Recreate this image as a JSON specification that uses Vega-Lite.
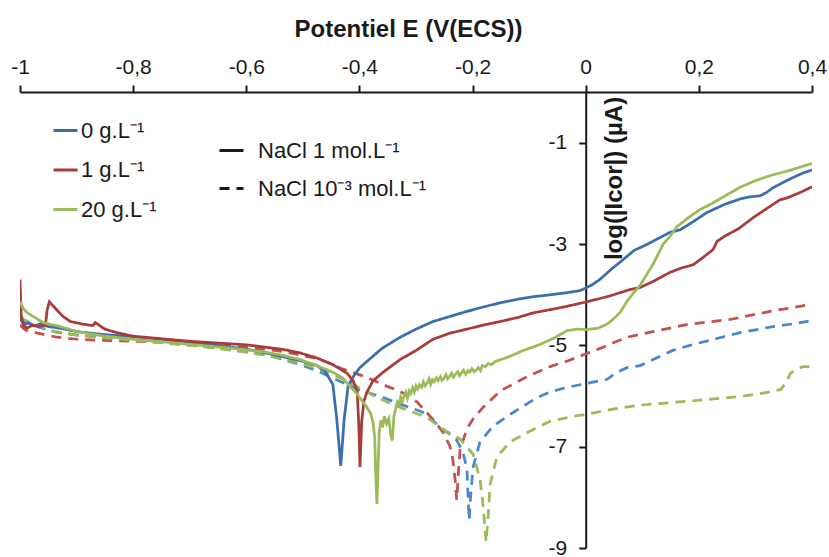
{
"$schema": "https://vega.github.io/schema/vega-lite/v6.json",
"width": 792, "height": 456,
"autosize": {"type": "none"},
"padding": {"left": 20, "top": 92, "right": 17, "bottom": 9},
"background": "white",
"config": {"view": {"stroke": null}, "font": "Liberation Sans", "axis": {"grid": false}},
"data": {"values": [
{"s":"b2","n":"3","x":-1.000,"y":-4.50},{"s":"b2","n":"3","x":-0.973,"y":-4.62},{"s":"b2","n":"3","x":-0.941,"y":-4.73},{"s":"b2","n":"3","x":-0.899,"y":-4.80},{"s":"b2","n":"3","x":-0.850,"y":-4.85},{"s":"b2","n":"3","x":-0.800,"y":-4.89},{"s":"b2","n":"3","x":-0.740,"y":-4.95},{"s":"b2","n":"3","x":-0.682,"y":-5.01},{"s":"b2","n":"3","x":-0.623,"y":-5.09},{"s":"b2","n":"3","x":-0.563,"y":-5.19},{"s":"b2","n":"3","x":-0.535,"y":-5.28},{"s":"b2","n":"3","x":-0.505,"y":-5.38},{"s":"b2","n":"3","x":-0.475,"y":-5.50},{"s":"b2","n":"3","x":-0.447,"y":-5.65},{"s":"b2","n":"3","x":-0.420,"y":-5.78},{"s":"b2","n":"3","x":-0.399,"y":-5.88},{"s":"b2","n":"3","x":-0.358,"y":-6.03},{"s":"b2","n":"3","x":-0.328,"y":-6.16},{"s":"b2","n":"3","x":-0.288,"y":-6.32},{"s":"b2","n":"3","x":-0.258,"y":-6.60},{"s":"b2","n":"3","x":-0.228,"y":-6.87},{"s":"b2","n":"3","x":-0.217,"y":-7.11},{"s":"b2","n":"3","x":-0.210,"y":-7.44},{"s":"b2","n":"3","x":-0.208,"y":-7.98},{"s":"b2","n":"3","x":-0.206,"y":-8.45},{"s":"b2","n":"3","x":-0.203,"y":-7.90},{"s":"b2","n":"3","x":-0.199,"y":-7.40},{"s":"b2","n":"3","x":-0.187,"y":-6.91},{"s":"b2","n":"3","x":-0.164,"y":-6.60},{"s":"b2","n":"3","x":-0.139,"y":-6.40},{"s":"b2","n":"3","x":-0.110,"y":-6.20},{"s":"b2","n":"3","x":-0.086,"y":-6.03},{"s":"b2","n":"3","x":-0.063,"y":-5.92},{"s":"b2","n":"3","x":-0.033,"y":-5.83},{"s":"b2","n":"3","x":0.002,"y":-5.75},{"s":"b2","n":"3","x":0.038,"y":-5.67},{"s":"b2","n":"3","x":0.055,"y":-5.53},{"s":"b2","n":"3","x":0.073,"y":-5.44},{"s":"b2","n":"3","x":0.096,"y":-5.40},{"s":"b2","n":"3","x":0.125,"y":-5.25},{"s":"b2","n":"3","x":0.154,"y":-5.10},{"s":"b2","n":"3","x":0.184,"y":-5.00},{"s":"b2","n":"3","x":0.230,"y":-4.87},{"s":"b2","n":"3","x":0.273,"y":-4.75},{"s":"b2","n":"3","x":0.326,"y":-4.64},{"s":"b2","n":"3","x":0.370,"y":-4.57},{"s":"b2","n":"3","x":0.400,"y":-4.51},
{"s":"r2","n":"3","x":-1.000,"y":-4.60},{"s":"r2","n":"3","x":-0.990,"y":-4.70},{"s":"r2","n":"3","x":-0.973,"y":-4.75},{"s":"r2","n":"3","x":-0.934,"y":-4.84},{"s":"r2","n":"3","x":-0.899,"y":-4.88},{"s":"r2","n":"3","x":-0.859,"y":-4.90},{"s":"r2","n":"3","x":-0.800,"y":-4.92},{"s":"r2","n":"3","x":-0.740,"y":-4.94},{"s":"r2","n":"3","x":-0.682,"y":-4.98},{"s":"r2","n":"3","x":-0.600,"y":-5.04},{"s":"r2","n":"3","x":-0.535,"y":-5.12},{"s":"r2","n":"3","x":-0.475,"y":-5.26},{"s":"r2","n":"3","x":-0.447,"y":-5.38},{"s":"r2","n":"3","x":-0.429,"y":-5.47},{"s":"r2","n":"3","x":-0.387,"y":-5.63},{"s":"r2","n":"3","x":-0.351,"y":-5.81},{"s":"r2","n":"3","x":-0.328,"y":-5.91},{"s":"r2","n":"3","x":-0.298,"y":-6.12},{"s":"r2","n":"3","x":-0.270,"y":-6.46},{"s":"r2","n":"3","x":-0.252,"y":-6.72},{"s":"r2","n":"3","x":-0.240,"y":-6.99},{"s":"r2","n":"3","x":-0.235,"y":-7.25},{"s":"r2","n":"3","x":-0.231,"y":-7.64},{"s":"r2","n":"3","x":-0.228,"y":-8.05},{"s":"r2","n":"3","x":-0.225,"y":-7.50},{"s":"r2","n":"3","x":-0.222,"y":-7.05},{"s":"r2","n":"3","x":-0.210,"y":-6.65},{"s":"r2","n":"3","x":-0.199,"y":-6.45},{"s":"r2","n":"3","x":-0.182,"y":-6.23},{"s":"r2","n":"3","x":-0.151,"y":-5.90},{"s":"r2","n":"3","x":-0.104,"y":-5.62},{"s":"r2","n":"3","x":-0.063,"y":-5.42},{"s":"r2","n":"3","x":-0.030,"y":-5.30},{"s":"r2","n":"3","x":0.002,"y":-5.16},{"s":"r2","n":"3","x":0.030,"y":-5.04},{"s":"r2","n":"3","x":0.055,"y":-4.92},{"s":"r2","n":"3","x":0.073,"y":-4.84},{"s":"r2","n":"3","x":0.119,"y":-4.73},{"s":"r2","n":"3","x":0.179,"y":-4.59},{"s":"r2","n":"3","x":0.255,"y":-4.49},{"s":"r2","n":"3","x":0.326,"y":-4.33},{"s":"r2","n":"3","x":0.400,"y":-4.19},
{"s":"g2","n":"3","x":-1.000,"y":-4.45},{"s":"g2","n":"3","x":-0.973,"y":-4.60},{"s":"g2","n":"3","x":-0.941,"y":-4.72},{"s":"g2","n":"3","x":-0.899,"y":-4.80},{"s":"g2","n":"3","x":-0.850,"y":-4.85},{"s":"g2","n":"3","x":-0.800,"y":-4.90},{"s":"g2","n":"3","x":-0.740,"y":-4.96},{"s":"g2","n":"3","x":-0.682,"y":-5.02},{"s":"g2","n":"3","x":-0.623,"y":-5.10},{"s":"g2","n":"3","x":-0.563,"y":-5.20},{"s":"g2","n":"3","x":-0.505,"y":-5.35},{"s":"g2","n":"3","x":-0.461,"y":-5.50},{"s":"g2","n":"3","x":-0.420,"y":-5.72},{"s":"g2","n":"3","x":-0.390,"y":-5.90},{"s":"g2","n":"3","x":-0.369,"y":-6.03},{"s":"g2","n":"3","x":-0.334,"y":-6.20},{"s":"g2","n":"3","x":-0.281,"y":-6.42},{"s":"g2","n":"3","x":-0.252,"y":-6.66},{"s":"g2","n":"3","x":-0.222,"y":-6.85},{"s":"g2","n":"3","x":-0.199,"y":-7.15},{"s":"g2","n":"3","x":-0.187,"y":-7.64},{"s":"g2","n":"3","x":-0.182,"y":-8.09},{"s":"g2","n":"3","x":-0.176,"y":-8.88},{"s":"g2","n":"3","x":-0.172,"y":-8.30},{"s":"g2","n":"3","x":-0.169,"y":-7.75},{"s":"g2","n":"3","x":-0.157,"y":-7.20},{"s":"g2","n":"3","x":-0.134,"y":-6.91},{"s":"g2","n":"3","x":-0.093,"y":-6.66},{"s":"g2","n":"3","x":-0.063,"y":-6.50},{"s":"g2","n":"3","x":-0.022,"y":-6.40},{"s":"g2","n":"3","x":0.002,"y":-6.36},{"s":"g2","n":"3","x":0.048,"y":-6.26},{"s":"g2","n":"3","x":0.096,"y":-6.18},{"s":"g2","n":"3","x":0.184,"y":-6.10},{"s":"g2","n":"3","x":0.273,"y":-6.01},{"s":"g2","n":"3","x":0.321,"y":-5.93},{"s":"g2","n":"3","x":0.345,"y":-5.87},{"s":"g2","n":"3","x":0.355,"y":-5.72},{"s":"g2","n":"3","x":0.362,"y":-5.55},{"s":"g2","n":"3","x":0.372,"y":-5.48},{"s":"g2","n":"3","x":0.384,"y":-5.42},{"s":"g2","n":"3","x":0.400,"y":-5.42},
{"s":"b1","n":"1","x":-1.000,"y":-4.40},{"s":"b1","n":"1","x":-0.994,"y":-4.60},{"s":"b1","n":"1","x":-0.985,"y":-4.55},{"s":"b1","n":"1","x":-0.975,"y":-4.62},{"s":"b1","n":"1","x":-0.962,"y":-4.57},{"s":"b1","n":"1","x":-0.950,"y":-4.63},{"s":"b1","n":"1","x":-0.930,"y":-4.66},{"s":"b1","n":"1","x":-0.899,"y":-4.73},{"s":"b1","n":"1","x":-0.850,"y":-4.79},{"s":"b1","n":"1","x":-0.800,"y":-4.83},{"s":"b1","n":"1","x":-0.750,"y":-4.88},{"s":"b1","n":"1","x":-0.700,"y":-4.94},{"s":"b1","n":"1","x":-0.650,"y":-5.00},{"s":"b1","n":"1","x":-0.598,"y":-5.08},{"s":"b1","n":"1","x":-0.553,"y":-5.18},{"s":"b1","n":"1","x":-0.505,"y":-5.30},{"s":"b1","n":"1","x":-0.475,"y":-5.40},{"s":"b1","n":"1","x":-0.461,"y":-5.51},{"s":"b1","n":"1","x":-0.447,"y":-5.77},{"s":"b1","n":"1","x":-0.440,"y":-6.46},{"s":"b1","n":"1","x":-0.433,"y":-7.38},{"s":"b1","n":"1","x":-0.427,"y":-6.46},{"s":"b1","n":"1","x":-0.420,"y":-5.80},{"s":"b1","n":"1","x":-0.411,"y":-5.62},{"s":"b1","n":"1","x":-0.400,"y":-5.45},{"s":"b1","n":"1","x":-0.387,"y":-5.32},{"s":"b1","n":"1","x":-0.360,"y":-5.06},{"s":"b1","n":"1","x":-0.328,"y":-4.84},{"s":"b1","n":"1","x":-0.300,"y":-4.68},{"s":"b1","n":"1","x":-0.270,"y":-4.53},{"s":"b1","n":"1","x":-0.240,"y":-4.43},{"s":"b1","n":"1","x":-0.210,"y":-4.33},{"s":"b1","n":"1","x":-0.180,"y":-4.24},{"s":"b1","n":"1","x":-0.151,"y":-4.16},{"s":"b1","n":"1","x":-0.120,"y":-4.09},{"s":"b1","n":"1","x":-0.093,"y":-4.04},{"s":"b1","n":"1","x":-0.060,"y":-4.00},{"s":"b1","n":"1","x":-0.033,"y":-3.96},{"s":"b1","n":"1","x":-0.010,"y":-3.92},{"s":"b1","n":"1","x":0.000,"y":-3.87},{"s":"b1","n":"1","x":0.012,"y":-3.80},{"s":"b1","n":"1","x":0.025,"y":-3.70},{"s":"b1","n":"1","x":0.045,"y":-3.50},{"s":"b1","n":"1","x":0.066,"y":-3.31},{"s":"b1","n":"1","x":0.085,"y":-3.13},{"s":"b1","n":"1","x":0.108,"y":-3.01},{"s":"b1","n":"1","x":0.130,"y":-2.88},{"s":"b1","n":"1","x":0.149,"y":-2.77},{"s":"b1","n":"1","x":0.167,"y":-2.72},{"s":"b1","n":"1","x":0.190,"y":-2.56},{"s":"b1","n":"1","x":0.214,"y":-2.38},{"s":"b1","n":"1","x":0.245,"y":-2.22},{"s":"b1","n":"1","x":0.273,"y":-2.11},{"s":"b1","n":"1","x":0.290,"y":-2.07},{"s":"b1","n":"1","x":0.308,"y":-2.05},{"s":"b1","n":"1","x":0.320,"y":-1.98},{"s":"b1","n":"1","x":0.331,"y":-1.89},{"s":"b1","n":"1","x":0.350,"y":-1.78},{"s":"b1","n":"1","x":0.366,"y":-1.69},{"s":"b1","n":"1","x":0.384,"y":-1.60},{"s":"b1","n":"1","x":0.400,"y":-1.54},
{"s":"r1","n":"1","x":-1.000,"y":-3.70},{"s":"r1","n":"1","x":-0.998,"y":-4.40},{"s":"r1","n":"1","x":-0.994,"y":-4.60},{"s":"r1","n":"1","x":-0.988,"y":-4.66},{"s":"r1","n":"1","x":-0.977,"y":-4.60},{"s":"r1","n":"1","x":-0.965,"y":-4.63},{"s":"r1","n":"1","x":-0.955,"y":-4.60},{"s":"r1","n":"1","x":-0.952,"y":-4.30},{"s":"r1","n":"1","x":-0.948,"y":-4.14},{"s":"r1","n":"1","x":-0.935,"y":-4.30},{"s":"r1","n":"1","x":-0.924,"y":-4.43},{"s":"r1","n":"1","x":-0.911,"y":-4.53},{"s":"r1","n":"1","x":-0.890,"y":-4.58},{"s":"r1","n":"1","x":-0.871,"y":-4.61},{"s":"r1","n":"1","x":-0.867,"y":-4.55},{"s":"r1","n":"1","x":-0.850,"y":-4.68},{"s":"r1","n":"1","x":-0.829,"y":-4.75},{"s":"r1","n":"1","x":-0.800,"y":-4.82},{"s":"r1","n":"1","x":-0.770,"y":-4.85},{"s":"r1","n":"1","x":-0.700,"y":-4.92},{"s":"r1","n":"1","x":-0.600,"y":-4.99},{"s":"r1","n":"1","x":-0.535,"y":-5.08},{"s":"r1","n":"1","x":-0.505,"y":-5.15},{"s":"r1","n":"1","x":-0.475,"y":-5.25},{"s":"r1","n":"1","x":-0.447,"y":-5.38},{"s":"r1","n":"1","x":-0.422,"y":-5.55},{"s":"r1","n":"1","x":-0.411,"y":-5.70},{"s":"r1","n":"1","x":-0.404,"y":-5.90},{"s":"r1","n":"1","x":-0.401,"y":-6.60},{"s":"r1","n":"1","x":-0.399,"y":-7.40},{"s":"r1","n":"1","x":-0.396,"y":-6.50},{"s":"r1","n":"1","x":-0.392,"y":-6.10},{"s":"r1","n":"1","x":-0.387,"y":-5.93},{"s":"r1","n":"1","x":-0.376,"y":-5.70},{"s":"r1","n":"1","x":-0.358,"y":-5.53},{"s":"r1","n":"1","x":-0.328,"y":-5.28},{"s":"r1","n":"1","x":-0.300,"y":-5.10},{"s":"r1","n":"1","x":-0.270,"y":-4.88},{"s":"r1","n":"1","x":-0.240,"y":-4.76},{"s":"r1","n":"1","x":-0.210,"y":-4.68},{"s":"r1","n":"1","x":-0.181,"y":-4.60},{"s":"r1","n":"1","x":-0.151,"y":-4.53},{"s":"r1","n":"1","x":-0.120,"y":-4.45},{"s":"r1","n":"1","x":-0.093,"y":-4.36},{"s":"r1","n":"1","x":-0.060,"y":-4.29},{"s":"r1","n":"1","x":-0.033,"y":-4.23},{"s":"r1","n":"1","x":0.002,"y":-4.14},{"s":"r1","n":"1","x":0.038,"y":-4.04},{"s":"r1","n":"1","x":0.061,"y":-3.96},{"s":"r1","n":"1","x":0.078,"y":-3.90},{"s":"r1","n":"1","x":0.096,"y":-3.86},{"s":"r1","n":"1","x":0.119,"y":-3.74},{"s":"r1","n":"1","x":0.149,"y":-3.56},{"s":"r1","n":"1","x":0.170,"y":-3.47},{"s":"r1","n":"1","x":0.190,"y":-3.41},{"s":"r1","n":"1","x":0.207,"y":-3.27},{"s":"r1","n":"1","x":0.225,"y":-3.11},{"s":"r1","n":"1","x":0.232,"y":-2.95},{"s":"r1","n":"1","x":0.245,"y":-2.85},{"s":"r1","n":"1","x":0.270,"y":-2.70},{"s":"r1","n":"1","x":0.296,"y":-2.48},{"s":"r1","n":"1","x":0.320,"y":-2.30},{"s":"r1","n":"1","x":0.343,"y":-2.13},{"s":"r1","n":"1","x":0.356,"y":-2.09},{"s":"r1","n":"1","x":0.380,"y":-1.98},{"s":"r1","n":"1","x":0.400,"y":-1.87},
{"s":"g1","n":"1","x":-1.000,"y":-4.13},{"s":"g1","n":"1","x":-0.994,"y":-4.28},{"s":"g1","n":"1","x":-0.988,"y":-4.35},{"s":"g1","n":"1","x":-0.977,"y":-4.43},{"s":"g1","n":"1","x":-0.959,"y":-4.55},{"s":"g1","n":"1","x":-0.929,"y":-4.63},{"s":"g1","n":"1","x":-0.899,"y":-4.73},{"s":"g1","n":"1","x":-0.850,"y":-4.82},{"s":"g1","n":"1","x":-0.800,"y":-4.88},{"s":"g1","n":"1","x":-0.740,"y":-4.94},{"s":"g1","n":"1","x":-0.682,"y":-5.00},{"s":"g1","n":"1","x":-0.623,"y":-5.06},{"s":"g1","n":"1","x":-0.563,"y":-5.14},{"s":"g1","n":"1","x":-0.535,"y":-5.20},{"s":"g1","n":"1","x":-0.505,"y":-5.28},{"s":"g1","n":"1","x":-0.475,"y":-5.40},{"s":"g1","n":"1","x":-0.447,"y":-5.53},{"s":"g1","n":"1","x":-0.429,"y":-5.65},{"s":"g1","n":"1","x":-0.417,"y":-5.81},{"s":"g1","n":"1","x":-0.405,"y":-5.95},{"s":"g1","n":"1","x":-0.395,"y":-6.10},{"s":"g1","n":"1","x":-0.387,"y":-6.22},{"s":"g1","n":"1","x":-0.380,"y":-6.35},{"s":"g1","n":"1","x":-0.376,"y":-6.52},{"s":"g1","n":"1","x":-0.373,"y":-6.80},{"s":"g1","n":"1","x":-0.371,"y":-7.60},{"s":"g1","n":"1","x":-0.369,"y":-8.13},{"s":"g1","n":"1","x":-0.367,"y":-7.40},{"s":"g1","n":"1","x":-0.365,"y":-6.70},{"s":"g1","n":"1","x":-0.362,"y":-6.48},{"s":"g1","n":"1","x":-0.359,"y":-6.62},{"s":"g1","n":"1","x":-0.356,"y":-6.40},{"s":"g1","n":"1","x":-0.352,"y":-6.55},{"s":"g1","n":"1","x":-0.348,"y":-6.45},{"s":"g1","n":"1","x":-0.345,"y":-6.75},{"s":"g1","n":"1","x":-0.342,"y":-6.88},{"s":"g1","n":"1","x":-0.339,"y":-6.40},{"s":"g1","n":"1","x":-0.336,"y":-6.25},{"s":"g1","n":"1","x":-0.333,"y":-6.12},{"s":"g1","n":"1","x":-0.330,"y":-6.18},{"s":"g1","n":"1","x":-0.327,"y":-6.02},{"s":"g1","n":"1","x":-0.324,"y":-6.10},{"s":"g1","n":"1","x":-0.321,"y":-6.00},{"s":"g1","n":"1","x":-0.318,"y":-5.92},{"s":"g1","n":"1","x":-0.315,"y":-6.04},{"s":"g1","n":"1","x":-0.312,"y":-5.90},{"s":"g1","n":"1","x":-0.309,"y":-5.95},{"s":"g1","n":"1","x":-0.306,"y":-5.84},{"s":"g1","n":"1","x":-0.303,"y":-5.92},{"s":"g1","n":"1","x":-0.300,"y":-5.80},{"s":"g1","n":"1","x":-0.297,"y":-5.86},{"s":"g1","n":"1","x":-0.294,"y":-5.78},{"s":"g1","n":"1","x":-0.290,"y":-5.83},{"s":"g1","n":"1","x":-0.287,"y":-5.72},{"s":"g1","n":"1","x":-0.284,"y":-5.80},{"s":"g1","n":"1","x":-0.280,"y":-5.74},{"s":"g1","n":"1","x":-0.277,"y":-5.66},{"s":"g1","n":"1","x":-0.274,"y":-5.77},{"s":"g1","n":"1","x":-0.271,"y":-5.68},{"s":"g1","n":"1","x":-0.268,"y":-5.72},{"s":"g1","n":"1","x":-0.264,"y":-5.64},{"s":"g1","n":"1","x":-0.261,"y":-5.70},{"s":"g1","n":"1","x":-0.257,"y":-5.62},{"s":"g1","n":"1","x":-0.254,"y":-5.69},{"s":"g1","n":"1","x":-0.250,"y":-5.64},{"s":"g1","n":"1","x":-0.247,"y":-5.58},{"s":"g1","n":"1","x":-0.244,"y":-5.66},{"s":"g1","n":"1","x":-0.240,"y":-5.60},{"s":"g1","n":"1","x":-0.237,"y":-5.55},{"s":"g1","n":"1","x":-0.234,"y":-5.63},{"s":"g1","n":"1","x":-0.230,"y":-5.57},{"s":"g1","n":"1","x":-0.226,"y":-5.52},{"s":"g1","n":"1","x":-0.223,"y":-5.60},{"s":"g1","n":"1","x":-0.219,"y":-5.54},{"s":"g1","n":"1","x":-0.216,"y":-5.49},{"s":"g1","n":"1","x":-0.212,"y":-5.57},{"s":"g1","n":"1","x":-0.208,"y":-5.50},{"s":"g1","n":"1","x":-0.205,"y":-5.53},{"s":"g1","n":"1","x":-0.201,"y":-5.46},{"s":"g1","n":"1","x":-0.197,"y":-5.52},{"s":"g1","n":"1","x":-0.193,"y":-5.48},{"s":"g1","n":"1","x":-0.190,"y":-5.44},{"s":"g1","n":"1","x":-0.186,"y":-5.50},{"s":"g1","n":"1","x":-0.183,"y":-5.40},{"s":"g1","n":"1","x":-0.178,"y":-5.42},{"s":"g1","n":"1","x":-0.172,"y":-5.36},{"s":"g1","n":"1","x":-0.166,"y":-5.38},{"s":"g1","n":"1","x":-0.160,"y":-5.32},{"s":"g1","n":"1","x":-0.150,"y":-5.28},{"s":"g1","n":"1","x":-0.139,"y":-5.24},{"s":"g1","n":"1","x":-0.110,"y":-5.10},{"s":"g1","n":"1","x":-0.080,"y":-4.98},{"s":"g1","n":"1","x":-0.055,"y":-4.85},{"s":"g1","n":"1","x":-0.033,"y":-4.71},{"s":"g1","n":"1","x":-0.015,"y":-4.68},{"s":"g1","n":"1","x":0.002,"y":-4.69},{"s":"g1","n":"1","x":0.022,"y":-4.66},{"s":"g1","n":"1","x":0.038,"y":-4.58},{"s":"g1","n":"1","x":0.048,"y":-4.49},{"s":"g1","n":"1","x":0.061,"y":-4.35},{"s":"g1","n":"1","x":0.073,"y":-4.13},{"s":"g1","n":"1","x":0.085,"y":-3.96},{"s":"g1","n":"1","x":0.096,"y":-3.82},{"s":"g1","n":"1","x":0.108,"y":-3.60},{"s":"g1","n":"1","x":0.119,"y":-3.40},{"s":"g1","n":"1","x":0.137,"y":-3.00},{"s":"g1","n":"1","x":0.149,"y":-2.85},{"s":"g1","n":"1","x":0.161,"y":-2.66},{"s":"g1","n":"1","x":0.179,"y":-2.50},{"s":"g1","n":"1","x":0.202,"y":-2.32},{"s":"g1","n":"1","x":0.225,"y":-2.19},{"s":"g1","n":"1","x":0.240,"y":-2.09},{"s":"g1","n":"1","x":0.273,"y":-1.88},{"s":"g1","n":"1","x":0.300,"y":-1.75},{"s":"g1","n":"1","x":0.326,"y":-1.65},{"s":"g1","n":"1","x":0.360,"y":-1.55},{"s":"g1","n":"1","x":0.400,"y":-1.41}
]},
"encoding": {
  "x": {"field": "x", "type": "quantitative",
    "scale": {"domain": [-1, 0.4], "nice": false, "zero": false},
    "axis": {"orient": "top", "values": [-1, -0.8, -0.6, -0.4, -0.2, 0, 0.2, 0.4],
      "labelExpr": "replace(replace(format(datum.value, '.1~f'), '.', ','), '\u2212', '-')",
      "labelFontSize": 21, "labelColor": "#1a1a1a", "labelPadding": 8, "labelFlush": false,
      "tickSize": 7, "tickWidth": 2, "tickColor": "#1a1a1a", "domainColor": "#1a1a1a", "domainWidth": 2,
      "title": "Potentiel E (V(ECS))", "titleFontSize": 24, "titleFontWeight": "bold", "titleColor": "#1a1a1a",
      "titleX": 388, "titleY": -63, "titleAlign": "center", "titleBaseline": "middle", "titleAngle": 0}},
  "y": {"field": "y", "type": "quantitative",
    "scale": {"domain": [-9, 0], "nice": false, "zero": false},
    "axis": {"orient": "left", "offset": -565.71, "values": [-9, -7, -5, -3, -1],
      "labelExpr": "replace(format(datum.value, 'd'), '\u2212', '-')",
      "labelFontSize": 21, "labelColor": "#1a1a1a", "labelPadding": 12,
      "tickSize": 7, "tickWidth": 2, "tickColor": "#1a1a1a", "domainColor": "#1a1a1a", "domainWidth": 2,
      "title": "log(|Icor|) (µA)", "titleFontSize": 24, "titleFontWeight": "bold", "titleColor": "#1a1a1a",
      "titleX": 29, "titleY": 86, "titleAlign": "center", "titleBaseline": "middle", "titleAngle": -90}},
  "color": {"field": "s", "type": "nominal",
    "scale": {"domain": ["b1", "r1", "g1", "b2", "r2", "g2"], "range": ["#3A6EAD", "#A83B3B", "#9BBB59", "#4A86C9", "#C5504D", "#9BBB59"]},
    "legend": {"orient": "none", "legendX": 32, "legendY": 25, "title": null, "values": ["b1", "r1", "g1"],
      "labelExpr": "datum.value == 'b1' ? '0 g.L⁻¹' : datum.value == 'r1' ? '1 g.L⁻¹' : '20 g.L⁻¹'",
      "symbolType": "stroke", "symbolSize": 576, "symbolStrokeWidth": 3, "labelLimit": 300,
      "labelFontSize": 22, "labelColor": "#1a1a1a", "labelOffset": 2, "rowPadding": 14.5}},
  "strokeDash": {"field": "n", "type": "nominal",
    "scale": {"domain": ["1", "3"], "range": [[1, 0], [10, 7]]},
    "legend": {"orient": "none", "legendX": 198, "legendY": 45, "title": null,
      "labelExpr": "datum.value == '1' ? 'NaCl 1 mol.L⁻¹' : 'NaCl 10⁻³ mol.L⁻¹'",
      "symbolType": "stroke", "symbolSize": 576, "symbolStrokeWidth": 3, "symbolStrokeColor": "#1a1a1a", "labelLimit": 300,
      "labelFontSize": 22, "labelColor": "#1a1a1a", "labelOffset": 13, "rowPadding": 13}}
},
"layer": [
  {"transform": [{"filter": "datum.n == '3'"}], "mark": {"type": "line", "strokeWidth": 2.75, "clip": true}},
  {"transform": [{"filter": "datum.n == '1'"}], "mark": {"type": "line", "strokeWidth": 2.75, "clip": true}}
]
}
